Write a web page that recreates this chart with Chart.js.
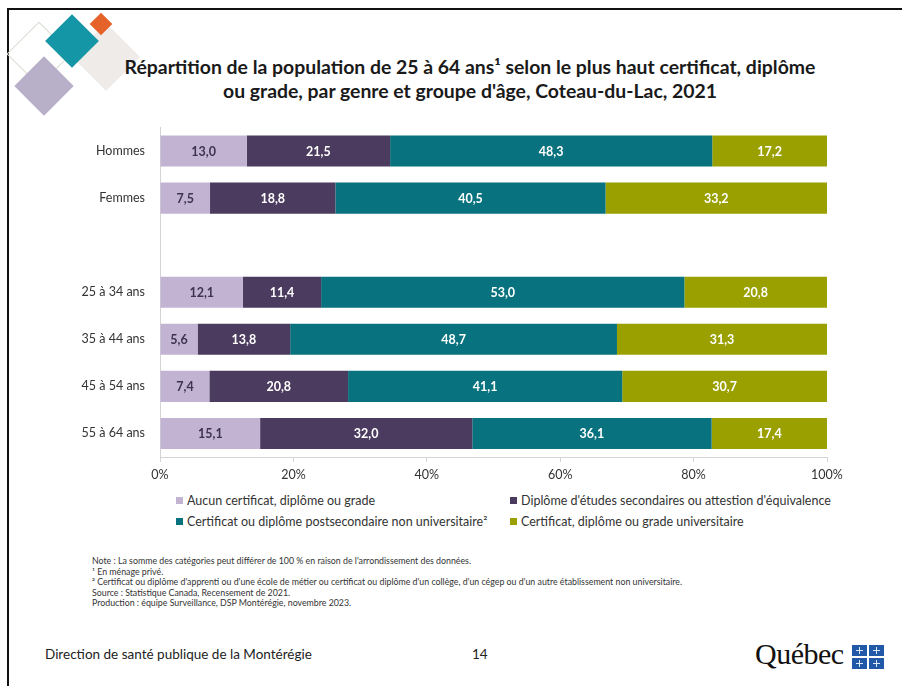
<!DOCTYPE html>
<html lang="fr">
<head>
<meta charset="utf-8">
<script src="https://cdn.jsdelivr.net/npm/chart.js@4.4.1/dist/chart.umd.min.js"></script>
<style>
  html, body { margin: 0; padding: 0; background: #fff; }
  body { width: 902px; height: 686px; position: relative; overflow: hidden;
         font-family: Lato, "Liberation Sans", sans-serif; color: #262626; }
  .frame-top { position: absolute; left: 7px; top: 8px; width: 900px; height: 2px; background: #111; }
  .frame-left { position: absolute; left: 7px; top: 8px; width: 2px; height: 690px; background: #111; }
  .dia { position: absolute; transform: rotate(45deg); }
  h1 { position: absolute; left: 90px; top: 55px; width: 760px; margin: 0; text-align: center;
       font-size: 19.4px; line-height: 24px; font-weight: bold; color: #1a1a1a; }
  #wrap { position: absolute; left: 0; top: 113px; width: 860px; height: 372px; }
  #legend { position: absolute; left: 176px; top: 493px; width: 700px; font-size: 12.5px; color: #333; }
  #legend div { position: absolute; white-space: nowrap; }
  #legend span.box { display: inline-block; width: 7px; height: 7px; margin-right: 4px; vertical-align: 1px; }
  #notes { position: absolute; left: 92px; top: 556px; font-size: 8.8px; line-height: 10.6px; color: #333; }
  #footer { position: absolute; left: 45px; top: 646px; font-size: 13.5px; color: #222; }
  #page { position: absolute; left: 472px; top: 646px; font-size: 13.5px; color: #222; }
  #qc { position: absolute; left: 755px; top: 637px; font-family: "Liberation Serif", serif; font-size: 30px; color: #111; letter-spacing: -0.5px; }
  .flag { position: absolute; width: 15px; height: 11px; background: #2158a8; }
  .flag::before { content: ""; position: absolute; left: 7px; top: 2px; width: 1px; height: 7px; background: #dfe8f5; }
  .flag::after { content: ""; position: absolute; left: 4px; top: 5px; width: 7px; height: 1px; background: #dfe8f5; }
</style>
</head>
<body>
<div class="frame-top"></div>
<div class="frame-left"></div>

<!-- décor en losanges -->
<div class="dia" style="left:16px;top:31px;width:44px;height:44px;border:1.5px solid #d6ded0;"></div>
<div class="dia" style="left:82px;top:33px;width:48px;height:48px;background:#eeebe9;"></div>
<div class="dia" style="left:53px;top:22px;width:38px;height:38px;background:#1596a6;"></div>
<div class="dia" style="left:93px;top:16px;width:16px;height:16px;background:#e5622a;"></div>
<div class="dia" style="left:23px;top:65px;width:42px;height:42px;background:#b8afc9;"></div>

<h1>Répartition de la population de 25 à 64 ans¹ selon le plus haut certificat, diplôme<br>ou grade, par genre et groupe d'âge, Coteau-du-Lac, 2021</h1>

<div id="wrap"><canvas id="chart"></canvas></div>
<div id="legend"></div>

<div id="notes">
  Note : La somme des catégories peut différer de 100 % en raison de l'arrondissement des données.<br>
  ¹ En ménage privé.<br>
  ² Certificat ou diplôme d'apprenti ou d'une école de métier ou certificat ou diplôme d'un collège, d'un cégep ou d'un autre établissement non universitaire.<br>
  Source : Statistique Canada, Recensement de 2021.<br>
  Production : équipe Surveillance, DSP Montérégie, novembre 2023.
</div>

<div id="footer">Direction de santé publique de la Montérégie</div>
<div id="page">14</div>
<div id="qc">Québec</div>
<div class="flag" style="left:852px;top:645px;"></div>
<div class="flag" style="left:869px;top:645px;"></div>
<div class="flag" style="left:852px;top:658px;"></div>
<div class="flag" style="left:869px;top:658px;"></div>

<script>
// catégories (ligne vide entre genre et groupes d'âge)
const categories = ['Hommes', 'Femmes', '', '25 à 34 ans', '35 à 44 ans', '45 à 54 ans', '55 à 64 ans'];

const seriesNames = [
  'Aucun certificat, diplôme ou grade',
  "Diplôme d'études secondaires ou attestion d'équivalence",
  'Certificat ou diplôme postsecondaire non universitaire²',
  'Certificat, diplôme ou grade universitaire'
];

// valeurs en % (telles qu'affichées)
const aucun      = [13.0,  7.5, null, 12.1,  5.6,  7.4, 15.1];
const secondaire = [21.5, 18.8, null, 11.4, 13.8, 20.8, 32.0];
const postsec    = [48.3, 40.5, null, 53.0, 48.7, 41.1, 36.1];
const univ       = [17.2, 33.2, null, 20.8, 31.3, 30.7, 17.4];

const colors     = ['#c2b3d3', '#4b3b5f', '#08737f', '#99a000'];
const labelColor = ['#3f3250', '#ffffff', '#ffffff', '#ffffff'];
const xTicks     = [0, 20, 40, 60, 80, 100];

const series = [aucun, secondaire, postsec, univ];

// barres empilées à 100 % : chaque ligne est ramenée sur son total
const totals = categories.map((c, j) => series.reduce((s, arr) => s + (arr[j] || 0), 0));
function share(arr) {
  return arr.map((v, j) => v == null ? null : v / totals[j] * 100);
}

function fmt(v) {
  return v.toFixed(1).replace('.', ',');
}

const FONT = 'Lato, "Liberation Sans", sans-serif';
Chart.defaults.font.family = FONT;
Chart.defaults.color = '#333';

// étiquettes dans les barres
const barLabels = {
  id: 'barLabels',
  afterDatasetsDraw(chart) {
    const ctx = chart.ctx;
    ctx.save();
    ctx.font = 'bold 12.5px ' + FONT;
    ctx.textAlign = 'center';
    ctx.textBaseline = 'middle';
    chart.data.datasets.forEach((ds, i) => {
      const meta = chart.getDatasetMeta(i);
      meta.data.forEach((bar, j) => {
        const raw = series[i][j];
        if (raw == null) return;
        const p = bar.getProps(['x', 'y', 'base'], true);
        ctx.fillStyle = labelColor[i];
        ctx.fillText(fmt(raw), (p.x + p.base) / 2, p.y + 1);
      });
    });
    ctx.restore();
  }
};

const chart = new Chart(document.getElementById('chart'), {
  type: 'bar',
  data: {
    labels: categories,
    datasets: series.map((arr, i) => ({
      label: seriesNames[i],
      data: share(arr),
      backgroundColor: colors[i],
      borderWidth: 0,
      barPercentage: 0.66,
      categoryPercentage: 1
    }))
  },
  options: {
    indexAxis: 'y',
    responsive: true,
    maintainAspectRatio: false,
    animation: false,
    layout: { padding: { top: 7, right: 33, bottom: 0, left: 0 } },
    plugins: {
      legend: { display: false },
      tooltip: { enabled: false }
    },
    scales: {
      x: {
        stacked: true,
        min: 0,
        max: 100,
        afterBuildTicks(scale) { scale.ticks = xTicks.map(v => ({ value: v })); },
        ticks: { callback: v => v + '%', font: { size: 12.5 }, color: '#333', padding: 5 },
        grid: { drawOnChartArea: false, drawTicks: true, tickLength: 5, color: '#d4d4d4' },
        border: { color: '#d4d4d4' },
        afterFit(scale) { scale.height = 28; }
      },
      y: {
        stacked: true,
        ticks: { font: { size: 12.5 }, color: '#333', padding: 7 },
        grid: { display: false },
        border: { color: '#d4d4d4' },
        afterFit(scale) { scale.width = 160; }
      }
    }
  },
  plugins: [barLabels]
});

// légende en deux colonnes
const legend = document.getElementById('legend');
const pos = [[0, 0], [334, 0], [0, 21], [334, 21]];
seriesNames.forEach((name, i) => {
  const item = document.createElement('div');
  item.style.left = pos[i][0] + 'px';
  item.style.top = pos[i][1] + 'px';
  const box = document.createElement('span');
  box.className = 'box';
  box.style.background = colors[i];
  item.appendChild(box);
  item.appendChild(document.createTextNode(name));
  legend.appendChild(item);
});
</script>
</body>
</html>
